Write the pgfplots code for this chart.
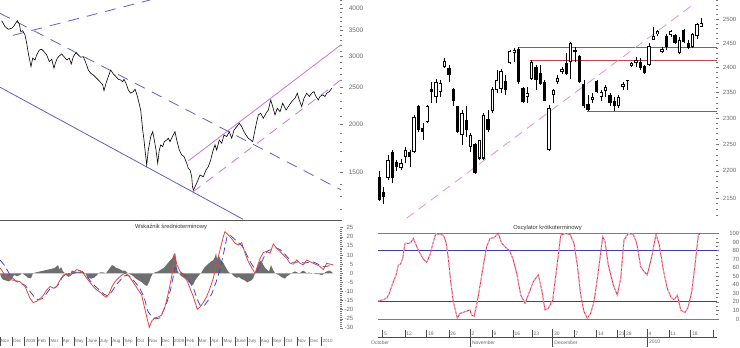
\documentclass[border=0pt]{standalone}
\usepackage{fontspec}
\setmainfont{Liberation Sans}
\usepackage{pgfplots}
\pgfplotsset{compat=1.18}
\definecolor{tlbl}{RGB}{105,105,105}
\definecolor{tk}{RGB}{120,120,120}
\definecolor{tblue}{RGB}{95,95,200}
\definecolor{tmag}{RGB}{205,115,215}
\definecolor{hred}{RGB}{190,70,70}
\definecolor{pdash}{RGB}{225,145,225}
\definecolor{omag}{RGB}{225,60,190}
\definecolor{oblue}{RGB}{60,60,165}
\definecolor{ored}{RGB}{225,55,60}
\definecolor{opink}{RGB}{245,165,215}
\definecolor{mred}{RGB}{225,70,70}
\definecolor{mblue}{RGB}{70,70,210}
\definecolor{hist}{RGB}{110,110,110}
\tikzset{mlab/.style={anchor=north west, inner sep=0pt, font=\fontsize{4.5}{5}\selectfont, text=tlbl, yshift=-2.2pt},
         rlab/.style={anchor=north west, inner sep=0pt, font=\fontsize{5}{6}\selectfont, text=tlbl, yshift=-2.5pt}}
\pgfplotsset{
  base/.style={scale only axis, axis line style={draw=none},
    tick style={tk, line width=0.5pt}, tick align=center,
    major tick length=3pt, minor tick length=1.2pt,
    xtick=\empty, ytick pos=right,
    yticklabel style={font=\fontsize{6}{7}\selectfont, text=tlbl, anchor=east, inner sep=0pt}},
}
\begin{document}
\begin{tikzpicture}
\useasboundingbox (0,0) rectangle (740pt,348pt);
% ---------------- left top ----------------
\begin{axis}[base, at={(0pt,348pt)}, anchor=north west, width=341pt, height=220pt,
  xmin=0, xmax=341, ymode=log, ymin=1128, ymax=4204,
  ytick={1500,2000,2500,3000,3500,4000}, yticklabels={1500,2000,2500,3000,3500,4000},
  minor ytick={1200,1300,1400,1600,1700,1800,1900,2100,2200,2300,2400,2600,2700,2800,2900,3100,3200,3300,3400,3600,3700,3800,3900,4100,4200},
  yticklabel style={xshift=21pt, font=\fontsize{6.5}{7}\selectfont}]
\addplot[tblue, line width=0.8pt] coordinates {(0,2495) (243,1133)};
\addplot[tblue, line width=0.8pt, dash pattern=on 11pt off 8pt] coordinates {(0,3883) (341,1351)};
\addplot[tblue, line width=0.8pt, dash pattern=on 11pt off 8pt] coordinates {(13,3403) (150,4204)};
\addplot[tmag, line width=0.8pt] coordinates {(188.3,1606) (341.7,3226)};
\addplot[tmag, line width=0.8pt, dash pattern=on 9pt off 7pt] coordinates {(193.3,1336) (341.7,2616)};
\addplot[black, line width=0.6pt] coordinates {
(1.7,3715) (5,3585) (8.3,3528) (11.7,3550) (14,3600) (17.3,3715) (19.3,3643) (20.7,3478) (22.7,3499) (25,3411) (26.7,3246) (28.3,3057) (30,2907) (31,2822) (32.7,2967) (35,2936) (36.7,3027) (39.3,3117) (41.7,3130) (44,3086) (46.7,3027) (49.3,2907) (51.7,2949) (54,2795) (55.3,2880) (57.3,2967) (59.3,3008) (61.7,3045) (64,2996) (66.7,2936) (69.3,2967) (71.3,2868) (73.3,2996) (76,3068) (78.3,3027) (80.7,2985) (83.3,2996) (86,2880) (88.3,2766) (90.7,2713) (93.3,2686) (96.7,2632) (100,2579) (102.7,2530) (104,2444) (106,2555) (108.3,2658) (110.7,2766) (113.3,2702) (116,2658) (118.3,2616) (120.7,2605) (122.7,2579) (124,2616) (126,2555) (128.3,2454) (130.7,2407) (133.3,2430) (135,2465) (136.7,2397) (138.3,2312)
(140.7,2177) (141.7,2051) (142.7,1932) (144,1820) (145,1714) (146.7,1568) (148.3,1714) (150.7,1857) (152.7,1913) (154.3,1820) (156,1714) (157.7,1584) (159.3,1714) (160.7,1767) (162.7,1749) (164.3,1802) (166.7,1820) (168.3,1839) (170,1802) (172.7,1864) (175,1913) (176.7,1820) (179.3,1714) (181.7,1665) (184,1648) (186.7,1584) (188.3,1537) (190,1521) (191.7,1462) (192.5,1376) (193.5,1349)
(196.7,1405) (200,1476) (203.3,1461) (206,1521) (208.3,1552) (210.7,1615) (212.7,1697) (215,1767) (216.7,1714) (219.3,1820) (221.7,1785) (224,1876) (226.7,1857) (229.3,1913) (231.7,1839) (234,1932) (236.7,1971) (239.3,2012) (241.7,1971) (244,1913) (246,1876) (248.3,1839) (250.7,1820) (252.7,1802) (254,1876) (256,1991) (258.3,2114) (260.7,2135) (263.3,2072) (266,2135) (268.3,2177) (270.7,2312) (272.7,2222) (275,2114) (277.3,2200) (280,2156) (282.7,2267) (286,2177) (288.3,2222) (291.7,2290) (295,2336) (297.3,2407) (299.3,2312) (301.7,2222) (304,2336) (306.7,2407) (309.3,2360) (311.7,2407) (314,2430) (316,2360) (318.3,2312) (320,2360) (322.7,2384) (325,2360) (326.7,2407) (329.3,2430) (331.7,2478)};
\end{axis}
\draw[black!65, line width=0.8pt] (0,127.5pt) -- (342pt,127.5pt);
% ---------------- left bottom ----------------
\begin{axis}[base, at={(0pt,127pt)}, anchor=north west, width=341pt, height=116pt,
  xmin=0, xmax=341, ymin=-35, ymax=28.7,
  ytick={-30,-25,...,25}, yticklabels={-30,-25,-20,-15,-10,-5,0,5,10,15,20,25},
  minor y tick num=4, yticklabel style={xshift=11pt}]
\addplot[draw=none, fill=hist] coordinates {
(0,0)(1,-2)(3,-3.5)(6,-4)(9,-4.5)(12,-3)(14,-1)(17,-1.5)(20,-1)(22,0)(25,-1)(28,-2.5)(31,-2.8)(33,0)(36,0.5)(40,1)(44,1.5)(48,2)(52,2.5)(55,3)(58,4.5)(59.5,2)(61,3.5)(63,1)(65,0)(67,-1.5)(69,-2)(70.5,0)(72,1.5)(75,1)(78,0.5)(82,1)(85,0)(88,-2.5)(91,-3)(94,-2.5)(97,-1)(100,0.5)(103,0.5)(106,0)(108,1.5)(110,3)(112,4.5)(114,4)(116,3)(119,2.5)(122,1.5)(125,1.5)(128,0)(130,-0.5)(133,-1.5)(136,-3)(139,-4)(142,-5)(145,-6.5)(147,-7)(149,-5)(151,-2)(153,0)(155,0.5)(158,1)(161,2)(164,3)(167,5)(170,7)(172,8)(174,10.5)(175,11)(176,7)(177,2)(179,0)(181,-1.5)(184,-2.5)(187,-3.5)(189,-5)(191,-6)(193,-6.5)(195,-4)(197,-2.5)(199,-1)(201,0)(203,2)(205,3.5)(207,4.5)(209,5.5)(211,6.5)(213,7)(215,9)(216,11)(217,8)(219,9.5)(221,7)(223,6)(225,4)(227,2)(229,0.5)(231,0)(233,-1)(235,-2)(237,-2.5)(239,-2)(241,-3)(243,-3.5)(245,-4)(247,-5)(249,-4.5)(251,-4)(253,-3)(255,0)(257,3)(259,6)(261,7)(263,5)(265,3)(267,2)(269,1)(271,4.5)(273,2)(275,0)(277,-0.5)(279,-1)(281,-2)(283,-2.5)(285,-3)(287,-1.5)(289,-1)(291,0)(293,0.5)(295,1)(297,0.5)(299,0)(301,0.5)(303,1.5)(305,0.8)(307,0)(309,0.5)(311,-0.5)(313,0)(316,-0.5)(319,-0.5)(322,-1)(323.5,-0.5)(325,0.5)(327,1)(329,1.5)(331,1)(333,0)};
\addplot[mblue, line width=0.8pt, dash pattern=on 7pt off 4pt] coordinates {
(0,7.3)(5,4)(10,-1)(15,-4)(20,-5.5)(25,-6.5)(30,-10)(35,-13.5)(38,-14.5)(42,-14)(46,-11.5)(50,-8.5)(55,-8)(58,-6.5)(62,-2.5)(66,0)(70,-0.5)(74,0)(78,1.5)(82,1)(86,-1)(90,-4)(95,-7)(100,-9.5)(104,-11.5)(108,-12.5)(112,-10)(116,-6.5)(120,-4)(124,-1.5)(128,-1)(132,-3)(136,-5.5)(140,-8.5)(144,-13)(148,-21)(152,-24)(156,-25)(160,-24.5)(163,-21)(167,-16)(171,-8)(175,3)(178,2)(182,0)(186,-2)(190,-5)(194,-9)(197,-14)(200,-17.5)(204,-18)(208,-15)(212,-11)(216,-5)(220,2)(224,12)(227,20)(230,21)(234,19)(238,17)(242,15)(246,11)(250,6.5)(254,3)(257,1)(260,4)(264,9)(268,12.5)(272,13)(276,14)(280,13)(284,11)(288,8.5)(292,6)(296,6)(300,6.5)(304,5.5)(308,6)(312,6.5)(316,5.5)(320,4.5)(324,3.5)(328,4)(333,4.5)};
\addplot[mred, line width=0.8pt] coordinates {
(0,3)(5,-1)(10,-3.5)(15,-4)(20,-4.6)(25,-7.3)(30,-13.7)(33.3,-16.1)(36.7,-15.4)(40,-13.9)(43.3,-12.1)(46.7,-9.2)(50,-7.3)(53.3,-8.2)(56.7,-7.3)(60,-3.7)(63.3,-1)(66.7,-0.5)(70,-1.5)(73.3,0.5)(76.7,2)(80,1.5)(83.3,0)(86.7,-2.7)(90,-5)(93.3,-7.3)(96.7,-9.2)(100,-10.4)(103.3,-12.1)(106,-13.2)(109,-11.4)(112,-7.3)(115,-4.6)(118.3,-2.7)(121.7,-1)(125,0)(128.3,-1)(131.7,-3.7)(135,-6.4)(138.3,-9.2)(141.7,-11.9)(145,-20)(149.3,-29.7)(152,-26)(155,-24.5)(158.3,-24)(161.7,-23)(165,-18.3)(168.3,-11)(171.7,-1.8)(174,7)(175,10)(176.7,5)(180,1)(183.3,-1.5)(186.7,-3.7)(190,-8.2)(193.3,-12.8)(197.3,-19.8)(200,-18.5)(203.3,-16.1)(206.7,-12.8)(210,-8.2)(213.3,-2.7)(216.7,5.5)(220,12.8)(223.3,20)(225,22.9)(228.3,21)(231.7,19)(235,16.5)(238.3,15.5)(241.7,16.8)(245,11)(248.3,6.4)(251.7,3)(255,0)(257.3,3.7)(260,8)(263.3,11.4)(266.7,12)(270,11)(273.3,16.1)(276.7,13.7)(280,12)(283.3,10)(286.7,8.2)(290,5.5)(293.3,5)(296.7,7.3)(300,5.5)(303.3,4.6)(306.7,7.3)(310,6.4)(313.3,5.5)(316.7,4.6)(320,3.7)(323.3,2)(326.7,5.5)(330,5)(333.3,4.6)};
\node[font=\fontsize{5.8}{7}\selectfont, text=black!80] at (axis cs:171,25.6) {Wskaźnik średnioterminowy};
\end{axis}
\begin{axis}[scale only axis, at={(0pt,127pt)}, anchor=north west, width=341pt, height=116pt,
  xmin=0, xmax=341, ymin=0, ymax=1, hide y axis, axis x line*=bottom, x axis line style={draw=none}, clip=false,
  xtick={0,12.37,24.74,37.11,49.48,61.85,74.22,86.59,98.96,111.33,123.7,136.07,148.44,160.81,173.18,185.55,197.92,210.29,222.66,235.03,247.4,259.77,272.14,284.51,296.88,309.25,321.62},
  xticklabels={},
  tick align=outside, major tick length=9pt, tick style={black!70, line width=0.5pt}]
\node[mlab] at (axis cs:0.8,0) {Nov};
\node[mlab] at (axis cs:13.2,0) {Dec};
\node[mlab] at (axis cs:25.5,0) {2008};
\node[mlab] at (axis cs:37.9,0) {Feb};
\node[mlab] at (axis cs:50.3,0) {Mar};
\node[mlab] at (axis cs:62.7,0) {Apr};
\node[mlab] at (axis cs:75.0,0) {May};
\node[mlab] at (axis cs:87.4,0) {June};
\node[mlab] at (axis cs:99.8,0) {July};
\node[mlab] at (axis cs:112.1,0) {Aug};
\node[mlab] at (axis cs:124.5,0) {Sep};
\node[mlab] at (axis cs:136.9,0) {Oct};
\node[mlab] at (axis cs:149.2,0) {Nov};
\node[mlab] at (axis cs:161.6,0) {Dec};
\node[mlab] at (axis cs:174.0,0) {2009};
\node[mlab] at (axis cs:186.4,0) {Feb};
\node[mlab] at (axis cs:198.7,0) {Mar};
\node[mlab] at (axis cs:211.1,0) {Apr};
\node[mlab] at (axis cs:223.5,0) {May};
\node[mlab] at (axis cs:235.8,0) {June};
\node[mlab] at (axis cs:248.2,0) {July};
\node[mlab] at (axis cs:260.6,0) {Aug};
\node[mlab] at (axis cs:272.9,0) {Sep};
\node[mlab] at (axis cs:285.3,0) {Oct};
\node[mlab] at (axis cs:297.7,0) {Nov};
\node[mlab] at (axis cs:310.1,0) {Dec};
\node[mlab] at (axis cs:322.4,0) {2010};
\end{axis}
% ---------------- right top ----------------
\begin{axis}[base, at={(376pt,348pt)}, anchor=north west, width=341pt, height=220pt,
  xmin=376, xmax=717, ymode=log, ymin=2111, ymax=2541, unbounded coords=jump,
  ytick={2150,2200,2250,2300,2350,2400,2450,2500}, yticklabels={2150,2200,2250,2300,2350,2400,2450,2500},
  minor ytick={2120,2130,2140,2160,2170,2180,2190,2210,2220,2230,2240,2260,2270,2280,2290,2310,2320,2330,2340,2360,2370,2380,2390,2410,2420,2430,2440,2460,2470,2480,2490,2510,2520,2530,2540},
  yticklabel style={xshift=18pt}]
\addplot[hred, line width=0.9pt] coordinates {(518.3,2441)(717,2441)};
\addplot[hred, line width=0.9pt] coordinates {(530,2414)(717,2414)};
\addplot[hred, line width=0.9pt] coordinates {(586.7,2313)(717,2313)};
\addplot[pdash, line width=0.8pt, dash pattern=on 9pt off 6pt] coordinates {(406.7,2114)(695,2534)};
% wicks
\addplot[black, line width=0.6pt] coordinates {
(379.3,2144)(379.3,2199)(379.3,nan) (383.7,2140)(383.7,2171)(383.7,nan) (388.0,2183)(388.0,2230)(388.0,nan) (392.4,2177)(392.4,2239)(392.4,nan) (396.7,2199)(396.7,2221)(396.7,nan)
(401.1,2202)(401.1,2223)(401.1,nan) (405.4,2214)(405.4,2245)(405.4,nan) (409.8,2208)(409.8,2239)(409.8,nan) (414.1,2233)(414.1,2306)(414.1,nan) (418.5,2274)(418.5,2326)(418.5,nan)
(422.8,2258)(422.8,2290)(422.8,nan) (427.2,2290)(427.2,2326)(427.2,nan) (431.5,2329)(431.5,2372)(431.5,nan) (435.9,2329)(435.9,2378)(435.9,nan) (440.2,2342)(440.2,2375)(440.2,nan)
(444.6,2399)(444.6,2419)(444.6,nan) (448.9,2372)(448.9,2405)(448.9,nan) (453.3,2323)(453.3,2360)(453.3,nan) (457.6,2271)(457.6,2324)(457.6,nan) (462.0,2248)(462.0,2316)(462.0,nan)
(466.3,2264)(466.3,2324)(466.3,nan) (470.7,2236)(470.7,2271)(470.7,nan) (475.0,2195)(475.0,2252)(475.0,nan) (479.4,2221)(479.4,2258)(479.4,nan) (483.7,2220)(483.7,2310)(483.7,nan)
(488.1,2274)(488.1,2316)(488.1,nan) (492.4,2310)(492.4,2362)(492.4,nan) (496.8,2349)(496.8,2395)(496.8,nan) (501.1,2349)(501.1,2397)(501.1,nan) (505.5,2345)(505.5,2385)(505.5,nan)
(509.8,2408)(509.8,2436)(509.8,nan) (514.2,2412)(514.2,2439)(514.2,nan) (518.5,2368)(518.5,2443)(518.5,nan) (522.9,2329)(522.9,2362)(522.9,nan) (527.2,2329)(527.2,2362)(527.2,nan)
(531.6,2375)(531.6,2416)(531.6,nan) (535.9,2355)(535.9,2405)(535.9,nan) (540.3,2365)(540.3,2405)(540.3,nan) (544.6,2333)(544.6,2375)(544.6,nan) (549.0,2238)(549.0,2326)(549.0,nan)
(553.3,2329)(553.3,2358)(553.3,nan) (557.7,2368)(557.7,2385)(557.7,nan) (562.0,2387)(562.0,2402)(562.0,nan) (566.4,2385)(566.4,2429)(566.4,nan) (570.7,2378)(570.7,2453)(570.7,nan)
(575.1,2412)(575.1,2443)(575.1,nan) (579.4,2370)(579.4,2426)(579.4,nan) (583.8,2319)(583.8,2375)(583.8,nan) (588.1,2313)(588.1,2345)(588.1,nan) (592.5,2329)(592.5,2349)(592.5,nan)
(596.8,2349)(596.8,2375)(596.8,nan) (601.2,2333)(601.2,2355)(601.2,nan) (605.5,2342)(605.5,2365)(605.5,nan) (609.9,2323)(609.9,2349)(609.9,nan) (614.2,2313)(614.2,2342)(614.2,nan)
(618.6,2319)(618.6,2345)(618.6,nan) (622.9,2355)(622.9,2372)(622.9,nan) (627.3,2355)(627.3,2376)(627.3,nan) (631.6,2402)(631.6,2412)(631.6,nan) (636.0,2402)(636.0,2421)(636.0,nan)
(640.3,2395)(640.3,2419)(640.3,nan) (644.7,2388)(644.7,2405)(644.7,nan) (649.0,2404)(649.0,2451)(649.0,nan) (653.4,2457)(653.4,2484)(653.4,nan) (657.7,2464)(657.7,2477)(657.7,nan)
(662.1,2429)(662.1,2443)(662.1,nan) (666.4,2436)(666.4,2468)(666.4,nan) (670.8,2463)(670.8,2478)(670.8,nan) (675.1,2448)(675.1,2469)(675.1,nan) (679.5,2427)(679.5,2462)(679.5,nan)
(683.8,2450)(683.8,2479)(683.8,nan) (688.2,2437)(688.2,2457)(688.2,nan) (692.5,2439)(692.5,2471)(692.5,nan) (696.9,2458)(696.9,2491)(696.9,nan) (701.2,2484)(701.2,2503)};
% black bodies
\addplot[black, line width=3.3pt] coordinates {
(379.3,2147)(379.3,2189)(379.3,nan) (383.7,2153)(383.7,2162)(383.7,nan) (392.4,2186)(392.4,2236)(392.4,nan) (396.7,2208)(396.7,2217)(396.7,nan) (409.8,2226)(409.8,2236)(409.8,nan)
(418.5,2277)(418.5,2323)(418.5,nan) (422.8,2274)(422.8,2280)(422.8,nan) (431.5,2352)(431.5,2358)(431.5,nan) (448.9,2385)(448.9,2399)(448.9,nan) (453.3,2333)(453.3,2358)(453.3,nan)
(457.6,2274)(457.6,2323)(457.6,nan) (466.3,2277)(466.3,2297)(466.3,nan) (475.0,2196)(475.0,2250)(475.0,nan) (488.1,2277)(488.1,2298)(488.1,nan) (505.5,2356)(505.5,2373)(505.5,nan)
(518.5,2372)(518.5,2437)(518.5,nan) (522.9,2331)(522.9,2360)(522.9,nan) (535.9,2375)(535.9,2402)(535.9,nan) (540.3,2368)(540.3,2390)(540.3,nan) (544.6,2333)(544.6,2372)(544.6,nan)
(566.4,2388)(566.4,2409)(566.4,nan) (575.1,2431)(575.1,2436)(575.1,nan) (579.4,2372)(579.4,2424)(579.4,nan) (583.8,2323)(583.8,2368)(583.8,nan) (588.1,2316)(588.1,2328)(588.1,nan)
(596.8,2352)(596.8,2374)(596.8,nan) (609.9,2329)(609.9,2345)(609.9,nan) (614.2,2323)(614.2,2333)(614.2,nan) (627.3,2374)(627.3,2376)(627.3,nan) (640.3,2399)(640.3,2412)(640.3,nan)
(644.7,2390)(644.7,2404)(644.7,nan) (666.4,2443)(666.4,2464)(666.4,nan) (675.1,2451)(675.1,2466)(675.1,nan) (683.8,2453)(683.8,2478)(683.8,nan) (688.2,2441)(688.2,2451)};
% white bodies: outline
\addplot[black, line width=3.3pt] coordinates {
(388.0,2186)(388.0,2221)(388.0,nan) (401.1,2205)(401.1,2214)(401.1,nan) (405.4,2226)(405.4,2239)(405.4,nan) (414.1,2236)(414.1,2303)(414.1,nan) (427.2,2292)(427.2,2324)(427.2,nan)
(435.9,2342)(435.9,2372)(435.9,nan) (440.2,2352)(440.2,2370)(440.2,nan) (444.6,2402)(444.6,2414)(444.6,nan) (462.0,2268)(462.0,2310)(462.0,nan) (470.7,2245)(470.7,2268)(470.7,nan)
(479.4,2223)(479.4,2258)(479.4,nan) (483.7,2223)(483.7,2306)(483.7,nan) (492.4,2313)(492.4,2358)(492.4,nan) (496.8,2355)(496.8,2375)(496.8,nan) (501.1,2358)(501.1,2394)(501.1,nan)
(509.8,2409)(509.8,2433)(509.8,nan) (514.2,2429)(514.2,2436)(514.2,nan) (527.2,2342)(527.2,2349)(527.2,nan) (531.6,2378)(531.6,2412)(531.6,nan) (549.0,2239)(549.0,2319)(549.0,nan)
(553.3,2345)(553.3,2355)(553.3,nan) (557.7,2372)(557.7,2379)(557.7,nan) (562.0,2391)(562.0,2398)(562.0,nan) (570.7,2412)(570.7,2450)(570.7,nan) (592.5,2335)(592.5,2342)(592.5,nan)
(601.2,2342)(601.2,2352)(601.2,nan) (605.5,2354)(605.5,2361)(605.5,nan) (618.6,2323)(618.6,2342)(618.6,nan) (622.9,2361)(622.9,2367)(622.9,nan) (631.6,2403)(631.6,2409)(631.6,nan)
(636.0,2409)(636.0,2416)(636.0,nan) (649.0,2405)(649.0,2444)(649.0,nan) (653.4,2457)(653.4,2464)(653.4,nan) (657.7,2468)(657.7,2475)(657.7,nan) (662.1,2431)(662.1,2437)(662.1,nan)
(670.8,2466)(670.8,2475)(670.8,nan) (679.5,2430)(679.5,2457)(679.5,nan) (692.5,2443)(692.5,2468)(692.5,nan) (696.9,2464)(696.9,2490)(696.9,nan) (701.2,2484)(701.2,2491)};
% white bodies: fill
\addplot[white, line width=1.5pt] coordinates {
(388.0,2188)(388.0,2219)(388.0,nan) (401.1,2207)(401.1,2212)(401.1,nan) (405.4,2228)(405.4,2237)(405.4,nan) (414.1,2238)(414.1,2301)(414.1,nan) (427.2,2294)(427.2,2322)(427.2,nan)
(435.9,2344)(435.9,2370)(435.9,nan) (440.2,2354)(440.2,2368)(440.2,nan) (444.6,2404)(444.6,2412)(444.6,nan) (462.0,2270)(462.0,2308)(462.0,nan) (470.7,2247)(470.7,2266)(470.7,nan)
(479.4,2225)(479.4,2256)(479.4,nan) (483.7,2225)(483.7,2304)(483.7,nan) (492.4,2315)(492.4,2356)(492.4,nan) (496.8,2357)(496.8,2373)(496.8,nan) (501.1,2360)(501.1,2392)(501.1,nan)
(509.8,2411)(509.8,2431)(509.8,nan) (514.2,2431)(514.2,2434)(514.2,nan) (527.2,2344)(527.2,2347)(527.2,nan) (531.6,2380)(531.6,2410)(531.6,nan) (549.0,2241)(549.0,2317)(549.0,nan)
(553.3,2347)(553.3,2353)(553.3,nan) (557.7,2374)(557.7,2377)(557.7,nan) (562.0,2393)(562.0,2396)(562.0,nan) (570.7,2414)(570.7,2448)(570.7,nan) (592.5,2337)(592.5,2340)(592.5,nan)
(601.2,2344)(601.2,2350)(601.2,nan) (605.5,2356)(605.5,2359)(605.5,nan) (618.6,2325)(618.6,2340)(618.6,nan) (622.9,2363)(622.9,2365)(622.9,nan) (631.6,2405)(631.6,2407)(631.6,nan)
(636.0,2411)(636.0,2414)(636.0,nan) (649.0,2407)(649.0,2442)(649.0,nan) (653.4,2459)(653.4,2462)(653.4,nan) (657.7,2470)(657.7,2473)(657.7,nan) (662.1,2433)(662.1,2435)(662.1,nan)
(670.8,2468)(670.8,2473)(670.8,nan) (679.5,2432)(679.5,2455)(679.5,nan) (692.5,2445)(692.5,2466)(692.5,nan) (696.9,2466)(696.9,2488)(696.9,nan) (701.2,2486)(701.2,2489)};
\end{axis}
% ---------------- right bottom ----------------
\begin{axis}[base, at={(378pt,127pt)}, anchor=north west, width=339pt, height=116.7pt,
  xmin=378, xmax=717, ymin=-21.9, ymax=114.6,
  ytick={0,10,...,100}, yticklabels={0,10,20,30,40,50,60,70,80,90,100}, minor y tick num=1,
  yticklabel style={xshift=21pt}]
\addplot[omag, line width=0.9pt] coordinates {(378,100)(717,100)};
\addplot[omag, line width=0.9pt] coordinates {(378,0)(717,0)};
\addplot[oblue, line width=0.9pt] coordinates {(378,80)(717,80)};
\addplot[oblue, line width=0.9pt] coordinates {(378,20)(717,20)};
\addplot[ored, line width=0.9pt] coordinates {
(378.3,21)(381.7,22.2)(386.7,24)(389.3,30)(392.7,41.7)(396,51.5)(398.3,63)(400.7,64.3)(402.7,71)(405,88.5)(408.3,88.5)(410.7,89.3)(413.3,94.3)(416.7,84.6)(420,76.8)(423.3,70.2)(426.7,66.3)(430,74.9)(433.3,90.4)(436,100)(439.3,99)(443.3,98)(446,90)(448.3,71)(450.7,43.7)(453.3,20.3)(457.3,1)(460,6.6)(463.3,7.8)(467.3,9.4)(470,10.5)(471.7,4.7)(474,2.7)(477.3,20.3)(480.7,43.7)(484,67)(486.7,84.6)(490,94.3)(494,95)(498.3,100)(501.7,88.5)(505,84.6)(510,78.8)(513.3,69)(516.7,53.4)(520.7,28)(525,18.3)(528.3,28)(533.3,43.7)(538.3,51.5)(541.7,34)(545,10.5)(548.3,12.5)(552.7,22.2)(556.7,59)(560.7,98)(565,100)(570,99)(574,88.5)(577.3,63)(580.7,28)(584,8.6)(587.3,1)(590.7,6.6)(594,20.3)(598.3,55.4)(602.7,96.3)(605,90.4)(608.3,63)(613.3,39.8)(617.3,28)(620.7,47.6)(624,92.4)(628.3,100)(633.3,99)(636.7,88.5)(640.7,61.2)(644,55.4)(647.3,51.5)(651.7,72.9)(656,99)(659.3,86.5)(663.3,57.3)(667.3,35.9)(670.7,26.1)(674,22.2)(677.3,28)(680.7,10.5)(685,7.4)(688.3,14.4)(691.7,32)(695,63)(698.3,98)(700,100)};
\addplot[opink, line width=0.9pt, dash pattern=on 2pt off 2pt] coordinates {
(378.3,21)(381.7,22.2)(386.7,24)(389.3,30)(392.7,41.7)(396,51.5)(398.3,63)(400.7,64.3)(402.7,71)(405,88.5)(408.3,88.5)(410.7,89.3)(413.3,94.3)(416.7,84.6)(420,76.8)(423.3,70.2)(426.7,66.3)(430,74.9)(433.3,90.4)(436,100)(439.3,99)(443.3,98)(446,90)(448.3,71)(450.7,43.7)(453.3,20.3)(457.3,1)(460,6.6)(463.3,7.8)(467.3,9.4)(470,10.5)(471.7,4.7)(474,2.7)(477.3,20.3)(480.7,43.7)(484,67)(486.7,84.6)(490,94.3)(494,95)(498.3,100)(501.7,88.5)(505,84.6)(510,78.8)(513.3,69)(516.7,53.4)(520.7,28)(525,18.3)(528.3,28)(533.3,43.7)(538.3,51.5)(541.7,34)(545,10.5)(548.3,12.5)(552.7,22.2)(556.7,59)(560.7,98)(565,100)(570,99)(574,88.5)(577.3,63)(580.7,28)(584,8.6)(587.3,1)(590.7,6.6)(594,20.3)(598.3,55.4)(602.7,96.3)(605,90.4)(608.3,63)(613.3,39.8)(617.3,28)(620.7,47.6)(624,92.4)(628.3,100)(633.3,99)(636.7,88.5)(640.7,61.2)(644,55.4)(647.3,51.5)(651.7,72.9)(656,99)(659.3,86.5)(663.3,57.3)(667.3,35.9)(670.7,26.1)(674,22.2)(677.3,28)(680.7,10.5)(685,7.4)(688.3,14.4)(691.7,32)(695,63)(698.3,98)(700,100)};
\node[font=\fontsize{5.8}{7}\selectfont, text=black!80] at (axis cs:547.5,106.1) {Oscylator krótkoterminowy};
\end{axis}
\begin{axis}[scale only axis, at={(378pt,127pt)}, anchor=north west, width=339pt, height=116.7pt,
  xmin=378, xmax=717, ymin=0, ymax=1, hide y axis, axis x line*=bottom,
  x axis line style={black!70, line width=0.7pt},
  xtick={382.7,405,426.7,449,470.3,492.3,513.3,532.3,552.7,574,596.7,617.7,624.7,647.3,669,690.7,713.3},
  xticklabels={5,12,19,26,2,9,16,23,30,7,14,21,28,4,11,18,},
  tick align=inside, major tick length=7.5pt, tick style={black!70, line width=0.6pt},
  xticklabel style={font=\fontsize{5}{6}\selectfont, text=tlbl, anchor=south west, inner sep=0pt, xshift=1.2pt, yshift=1.8pt}]
\end{axis}
\begin{axis}[scale only axis, at={(378pt,127pt)}, anchor=north west, width=339pt, height=116.7pt,
  xmin=378, xmax=717, ymin=0, ymax=1, hide y axis, axis x line*=bottom, x axis line style={draw=none}, clip=false,
  xtick={470.3,552.7,647.3}, xticklabels={},
  tick align=center, major tick length=18pt, tick style={black!70, line width=0.6pt}]
\node[rlab] at (axis cs:371,0) {October};
\node[rlab] at (axis cs:471.8,0) {November};
\node[rlab] at (axis cs:554.2,0) {December};
\node[rlab] at (axis cs:648.8,0) {2010};
\end{axis}
\end{tikzpicture}
\end{document}
